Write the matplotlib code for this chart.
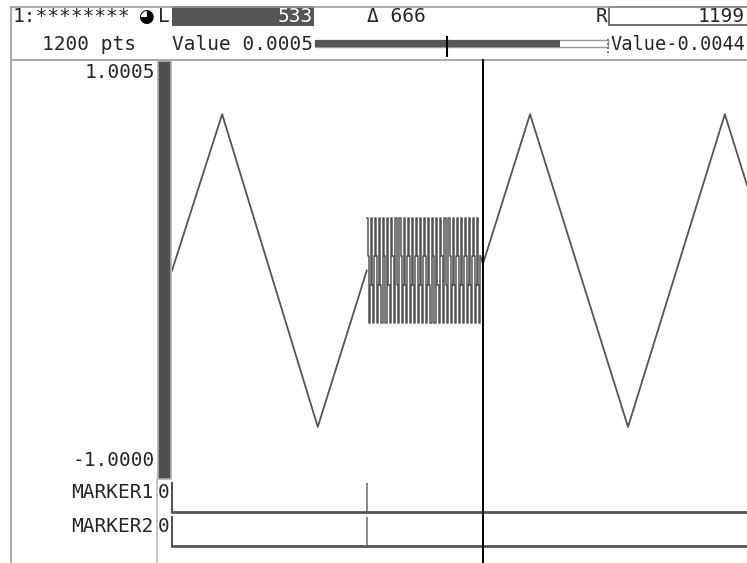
import numpy as np
import matplotlib
matplotlib.use('Agg')
import matplotlib.pyplot as plt
import matplotlib.transforms as mtransforms
from matplotlib.patches import Rectangle
from matplotlib.lines import Line2D

W, H = 747, 563

# --- data (sample index, value) ---
tri1_x = [0, 86, 250, 334]
tri1_y = [0.0, 0.75, -0.75, 0.0]
burst_start = 334
burst_cycle = [0.25, 0.25, 0.07, 0.07, -0.25, -0.25, -0.07,
               0.25, 0.25, -0.07, -0.07, -0.25, -0.25, 0.07]
burst_reps = 14
tri2_x = [533, 614, 782, 948, 986]
tri2_y = [0.03, 0.75, -0.75, 0.75, 0.41]

x_span = (0, 986)
y_span = (-1.0000, 1.0005)
y_labels = ["1.0005", "-1.0000"]
cursor_l, cursor_r = 533, 1199
marker_pos = 334
n_pts = 1200
value_l, value_r = 0.0005, -0.0044
marker_names = ["MARKER1", "MARKER2"]

TXT = '#262626'
WAVE = '#555555'
FONT = ['DejaVu Sans Mono', 'DejaVu Sans']
FS = 14

burst = np.tile(burst_cycle, burst_reps)
burst_x = burst_start + np.arange(len(burst))

fig = plt.figure(figsize=(W / 100, H / 100), dpi=100)
fig.patch.set_facecolor('white')

def frac(x0, y0, x1, y1):
    # pixel box (top-left origin) -> figure fraction rect
    return [x0 / W, 1 - y1 / H, (x1 - x0) / W, (y1 - y0) / H]

# background layer in pixel coordinates
bg = fig.add_axes([0, 0, 1, 1])
bg.set_xlim(0, W); bg.set_ylim(H, 0); bg.axis('off')

def txt(x, y, s, ha='left', color=TXT, size=FS):
    bg.text(x, y, s, ha=ha, va='center', color=color, fontsize=size, family=FONT)

# frame lines
bg.plot([11, W], [7, 7], color='#999999', lw=1.2)
bg.plot([11, 11], [7, H], color='#999999', lw=1.2)
bg.plot([11, W], [59.5, 59.5], color='#aaaaaa', lw=1.5)

# header row 1
txt(13, 17, "1:********")
bg.text(146, 17, "\u25d5", ha='center', va='center', color='black', fontsize=13,
        family=['DejaVu Sans'])
txt(158, 17, "L")
bg.add_patch(Rectangle((172, 6), 142, 20, facecolor='#555555', edgecolor='none'))
txt(313, 16, f"{cursor_l}", ha='right', color='white')
txt(367, 16, f"\u0394 {cursor_r - cursor_l}")
txt(607, 17, "R", ha='right')
bg.add_patch(Rectangle((609, 7), 140, 18, facecolor='white', edgecolor='#555555', lw=1.2))
txt(745, 16, f"{cursor_r}", ha='right')

# header row 2
txt(136, 45, f"{n_pts} pts", ha='right')
txt(172, 44, f"Value {value_l:.4f}")
bg.add_patch(Rectangle((315, 40), 293, 7, facecolor='white', edgecolor='#999999', lw=1))
bg.add_patch(Rectangle((315, 40), 245, 7, facecolor='#555555', edgecolor='none'))
bg.plot([447, 447], [37, 56], color='black', lw=1.5)
bg.plot([608, 608], [39, 56], color='#555555', lw=1.2, ls=(0, (1, 1.5)))
txt(610, 44, f"Value{value_r:.4f}", size=13.4)

# y range bar and labels
bg.add_patch(Rectangle((157.5, 61), 13, 418, facecolor='#505050', edgecolor='#b0b0b0', lw=1.2))
bg.plot([157, 157], [479, H], color='#bbbbbb', lw=1.2)
txt(155, 72, y_labels[0], ha='right')
txt(155, 460, y_labels[1], ha='right')
for i, name in enumerate(marker_names):
    yy = 493 + 33 * i
    txt(153, yy, name, ha='right')
    txt(164, yy, "0", ha='center')

# waveform axes
ax = fig.add_axes(frac(172, 62, W, 479))
ax.patch.set_alpha(0)
ax.plot(tri1_x, tri1_y, color=WAVE, lw=1.3)
ax.step(burst_x, burst, where='post', color=WAVE, lw=1.1)
ax.plot([burst_x[-1], tri2_x[0]], [burst[-1], tri2_y[0]], color=WAVE, lw=1.1)
ax.plot(tri2_x, tri2_y, color=WAVE, lw=1.3)
ax.set_xlim(*x_span); ax.set_ylim(*y_span)
ax.axis('off')

# marker rows
for i in range(len(marker_names)):
    y0 = 483 + 34 * i
    mx = fig.add_axes(frac(172, y0, W, y0 + 29), sharex=ax)
    mx.patch.set_alpha(0)
    mx.set_ylim(0, 1)
    for s in ['top', 'right']:
        mx.spines[s].set_visible(False)
    mx.spines['bottom'].set_color('#555555'); mx.spines['bottom'].set_linewidth(2)
    mx.spines['left'].set_color('#555555'); mx.spines['left'].set_linewidth(1.5)
    mx.set_xticks([]); mx.set_yticks([])
    mx.axvline(marker_pos, color='#777777', lw=1.2)

# cursor line across panels
trans = mtransforms.blended_transform_factory(ax.transData, fig.transFigure)
fig.add_artist(Line2D([cursor_l, cursor_l], [0, 1 - 60 / H], transform=trans,
                      color='black', lw=1.4))

fig.savefig('out.png', dpi=100)
